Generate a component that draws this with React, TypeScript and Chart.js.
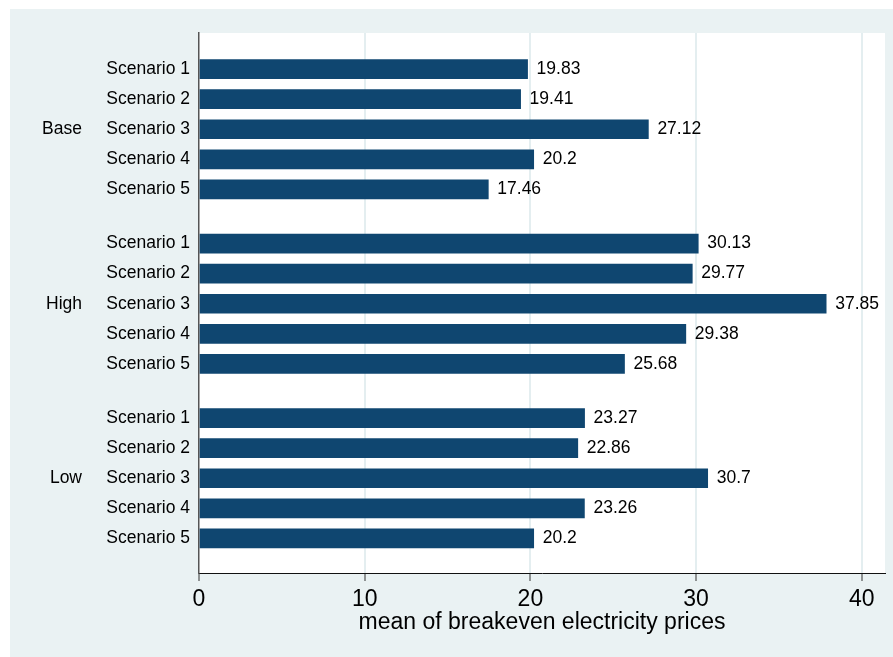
import { useEffect, useRef } from 'react';
import { Chart, registerables } from 'chart.js';

Chart.register(...registerables);

const groups = ['Base', 'High', 'Low'];
const scenarios = ['Scenario 1', 'Scenario 2', 'Scenario 3', 'Scenario 4', 'Scenario 5'];
const baseValues = [19.83, 19.41, 27.12, 20.2, 17.46];
const highValues = [30.13, 29.77, 37.85, 29.38, 25.68];
const lowValues = [23.27, 22.86, 30.7, 23.26, 20.2];
const xTicks = [0, 10, 20, 30, 40];
const xTitle = 'mean of breakeven electricity prices';

const FONT = '"Liberation Sans", Arial, Helvetica, sans-serif';
const BAR_COLOR = '#0f4670';
const PANEL = '#eaf2f3';
const GROUP_GAP = 0.8;

const allValues = [baseValues, highValues, lowValues];
const pos = (g: number, s: number) => g * (scenarios.length + GROUP_GAP) + s;

const points: { x: number; y: number }[] = [];
allValues.forEach((vals, g) => vals.forEach((v, s) => points.push({ x: v, y: pos(g, s) })));
const scenarioTickPos: number[] = [];
groups.forEach((_, g) => scenarios.forEach((__, s) => scenarioTickPos.push(pos(g, s))));
const groupTickPos = groups.map((_, g) => pos(g, (scenarios.length - 1) / 2));
const yMin = -1.2;
const yMax = pos(groups.length - 1, scenarios.length - 1) + 1.15;

const bgPlugin = {
  id: 'bgPanel',
  beforeDraw(chart: any) {
    const { ctx, width, height, chartArea } = chart;
    ctx.save();
    ctx.fillStyle = '#ffffff';
    ctx.fillRect(0, 0, width, height);
    ctx.fillStyle = PANEL;
    ctx.fillRect(10, 9, width - 10, height - 9);
    ctx.fillStyle = '#ffffff';
    ctx.fillRect(chartArea.left, chartArea.top, chartArea.right - chartArea.left, chartArea.bottom - chartArea.top);
    ctx.restore();
  },
};

const valueLabelPlugin = {
  id: 'valueLabels',
  afterDatasetsDraw(chart: any) {
    const { ctx } = chart;
    const meta = chart.getDatasetMeta(0);
    ctx.save();
    ctx.font = `17.5px ${FONT}`;
    ctx.fillStyle = '#000';
    ctx.textAlign = 'left';
    ctx.textBaseline = 'middle';
    meta.data.forEach((bar: any, i: number) => {
      const v = (chart.data.datasets[0].data[i] as any).x;
      ctx.fillText(String(v), bar.x + 9, bar.y);
    });
    ctx.restore();
  },
};

export default function App() {
  const ref = useRef<HTMLCanvasElement>(null);
  useEffect(() => {
    const chart = new Chart(ref.current!, {
      type: 'bar',
      data: {
        datasets: [
          {
            data: points as any,
            backgroundColor: BAR_COLOR,
            borderWidth: 0,
            barThickness: 19,
            yAxisID: 'y',
            xAxisID: 'x',
          },
        ],
      },
      options: {
        indexAxis: 'y',
        animation: false,
        responsive: true,
        maintainAspectRatio: false,
        layout: { padding: { top: 33, right: 8, bottom: 0, left: 0 } },
        plugins: { legend: { display: false }, tooltip: { enabled: false } },
        scales: {
          x: {
            type: 'linear',
            position: 'bottom',
            min: 0,
            max: 41.4,
            offset: false,
            afterBuildTicks: (s: any) => {
              s.ticks = xTicks.map((v) => ({ value: v }));
            },
            afterFit: (s: any) => {
              s.height = 84;
            },
            ticks: {
              font: { family: FONT, size: 23 },
              color: '#000',
              padding: 5,
              maxRotation: 0,
              autoSkip: false,
            },
            grid: {
              offset: false,
              color: (c: any) => (c.tick && c.tick.value === 0 ? 'rgba(0,0,0,0)' : '#e4eef0'),
              lineWidth: 2,
              drawTicks: true,
              tickLength: 8,
              tickColor: '#333',
              tickWidth: 1,
            },
            border: { display: true, color: '#111', width: 1 },
            title: {
              display: true,
              text: xTitle,
              font: { family: FONT, size: 23 },
              color: '#000',
              padding: { top: 0, bottom: 21 },
            },
          },
          y: {
            type: 'linear',
            position: 'left',
            reverse: true,
            min: yMin,
            max: yMax,
            offset: false,
            weight: 0,
            afterBuildTicks: (s: any) => {
              s.ticks = scenarioTickPos.map((v) => ({ value: v }));
            },
            afterFit: (s: any) => {
              s.width = 99;
            },
            ticks: {
              font: { family: FONT, size: 17.5 },
              color: '#000',
              padding: 9,
              autoSkip: false,
              callback: (_v: any, i: number) => scenarios[i % scenarios.length],
            },
            grid: { display: false, drawTicks: false, offset: false },
            border: { display: true, color: '#555', width: 1.5 },
          },
          y2: {
            type: 'linear',
            position: 'left',
            reverse: true,
            min: yMin,
            max: yMax,
            offset: false,
            weight: 1,
            afterBuildTicks: (s: any) => {
              s.ticks = groupTickPos.map((v) => ({ value: v }));
            },
            afterFit: (s: any) => {
              s.width = 100;
            },
            ticks: {
              font: { family: FONT, size: 17.5 },
              color: '#000',
              padding: 18,
              autoSkip: false,
              callback: (_v: any, i: number) => groups[i],
            },
            grid: { display: false, drawTicks: false, offset: false },
            border: { display: false },
          },
        },
      },
      plugins: [bgPlugin, valueLabelPlugin],
    } as any);
    return () => chart.destroy();
  }, []);
  return (
    <div style={{ position: 'absolute', left: 0, top: 0, width: 893, height: 657 }}>
      <canvas ref={ref} />
    </div>
  );
}
